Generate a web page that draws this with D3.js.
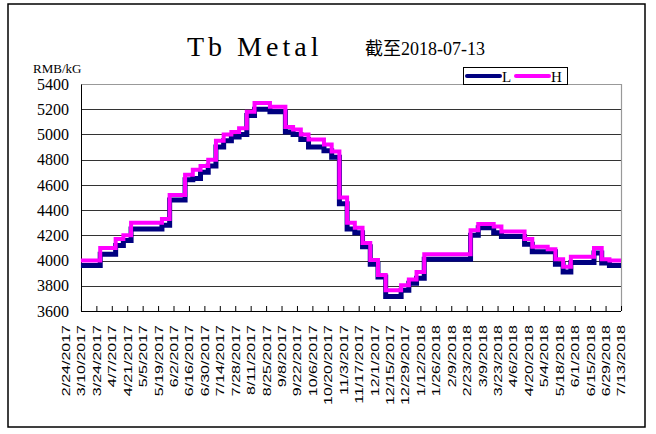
<!DOCTYPE html>
<html><head><meta charset="utf-8">
<script src="https://cdn.jsdelivr.net/npm/d3@7/dist/d3.min.js"></script>
<style>
body{margin:0;background:#fff;}
svg{display:block;}
</style></head>
<body>
<svg id="c" width="656" height="434"></svg>
<script>
// ---- data ----
const weeks = ["3/10/2017","3/17/2017","3/24/2017","3/31/2017","4/7/2017","4/14/2017","4/21/2017","4/28/2017","5/5/2017","5/12/2017","5/19/2017","5/26/2017","6/2/2017","6/9/2017","6/16/2017","6/23/2017","6/30/2017","7/7/2017","7/14/2017","7/21/2017","7/28/2017","8/4/2017","8/11/2017","8/18/2017","8/25/2017","9/1/2017","9/8/2017","9/15/2017","9/22/2017","9/29/2017","10/6/2017","10/13/2017","10/20/2017","10/27/2017","11/3/2017","11/10/2017","11/17/2017","11/24/2017","12/1/2017","12/8/2017","12/15/2017","12/22/2017","12/29/2017","1/5/2018","1/12/2018","1/19/2018","1/26/2018","2/2/2018","2/9/2018","2/16/2018","2/23/2018","3/2/2018","3/9/2018","3/16/2018","3/23/2018","3/30/2018","4/6/2018","4/13/2018","4/20/2018","4/27/2018","5/4/2018","5/11/2018","5/18/2018","5/25/2018","6/1/2018","6/8/2018","6/15/2018","6/22/2018","6/29/2018","7/6/2018","7/13/2018"];
const lowValues = [3960,3960,3960,4050,4050,4120,4160,4250,4250,4250,4250,4280,4480,4480,4640,4650,4700,4750,4900,4950,4980,5000,5150,5200,5200,5180,5180,5020,5000,4960,4900,4900,4870,4820,4450,4250,4220,4110,3970,3870,3715,3715,3765,3820,3860,4010,4010,4010,4010,4010,4010,4200,4260,4260,4220,4190,4190,4190,4130,4070,4070,4070,3970,3910,3985,3985,3985,4060,3980,3960,3960];
const highValues = [4000,4000,4000,4100,4100,4170,4200,4300,4300,4300,4300,4330,4520,4520,4680,4720,4750,4800,4950,5000,5020,5050,5180,5250,5250,5220,5220,5060,5040,5000,4960,4960,4920,4865,4500,4300,4260,4140,4005,3885,3765,3765,3805,3850,3910,4050,4050,4050,4050,4050,4050,4240,4290,4290,4270,4230,4230,4230,4170,4110,4110,4090,4010,3950,4030,4030,4030,4100,4010,4000,4000];
const tickLabels = ["2/24/2017","3/10/2017","3/24/2017","4/7/2017","4/21/2017","5/5/2017","5/19/2017","6/2/2017","6/16/2017","6/30/2017","7/14/2017","7/28/2017","8/11/2017","8/25/2017","9/8/2017","9/22/2017","10/6/2017","10/20/2017","11/3/2017","11/17/2017","12/1/2017","12/15/2017","12/29/2017","1/12/2018","1/26/2018","2/9/2018","2/23/2018","3/9/2018","3/23/2018","4/6/2018","4/20/2018","5/4/2018","5/18/2018","6/1/2018","6/15/2018","6/29/2018","7/13/2018"];
const yTicks = [3600,3800,4000,4200,4400,4600,4800,5000,5200,5400];
const seriesNames = ["L","H"];

// ---- setup ----
const parse = d3.timeParse("%m/%d/%Y");
const svg = d3.select("#c");
const plot = {left:81, right:621, top:84, bottom:311};

const x = d3.scaleTime()
  .domain([parse(tickLabels[0]), parse(tickLabels[tickLabels.length-1])])
  .range([65.5, plot.right]);
const y = d3.scaleLinear().domain([3600,5400]).range([plot.bottom, plot.top]);

// outer frame
svg.append("rect").attr("x",8).attr("y",4).attr("width",637).attr("height",423)
  .attr("fill","#fff").attr("stroke","#000").attr("stroke-width",1.5);

// title
svg.append("text").attr("x",187).attr("y",56)
  .attr("font-family","Liberation Serif, serif").attr("font-size",28)
  .attr("letter-spacing",4).attr("fill","#000").text("Tb Metal");
svg.append("text").attr("x",365).attr("y",55)
  .attr("font-family","Liberation Serif, 'Noto Sans CJK SC', serif").attr("font-size",18)
  .attr("fill","#000").text("截至2018-07-13");

// unit label
svg.append("text").attr("x",33).attr("y",73)
  .attr("font-family","Liberation Serif, serif").attr("font-size",13)
  .attr("fill","#000").text("RMB/kG");

// gridlines
svg.append("g").selectAll("line").data(yTicks.filter(v=>v>3600 && v<5400)).join("line")
  .attr("x1",plot.left).attr("x2",plot.right)
  .attr("y1",d=>Math.round(y(d))+0.5).attr("y2",d=>Math.round(y(d))+0.5)
  .attr("stroke","#333").attr("stroke-width",1);
// top / right border
svg.append("path")
  .attr("d",`M${plot.left},${plot.top+0.5}H${plot.right+0.5}V${plot.bottom}`)
  .attr("fill","none").attr("stroke","#999").attr("stroke-width",1.2);

// y axis
const yAxis = svg.append("g").attr("transform",`translate(${plot.left},0)`)
  .call(d3.axisLeft(y).tickValues(yTicks).tickSize(0).tickPadding(12).tickFormat(d3.format("d")));
yAxis.select(".domain").attr("stroke","#000");
yAxis.selectAll("text").attr("font-family","Liberation Serif, serif").attr("font-size",16).attr("fill","#000");

// x axis
const xAxis = svg.append("g").attr("transform",`translate(0,${plot.bottom})`)
  .call(d3.axisBottom(x).tickValues(tickLabels.map(parse)).tickSize(-5)
        .tickFormat((d,i)=>tickLabels[i]));
xAxis.select(".domain").attr("d",`M${plot.left},0.5H${plot.right}`).attr("stroke","#000");
xAxis.selectAll(".tick line").attr("stroke","#000").attr("opacity",(d,i)=>i===0?0:1);
xAxis.selectAll(".tick text")
  .attr("x",0).attr("y",0).attr("dy","0.35em")
  .attr("transform","translate(0,14) rotate(-90) scale(1,0.7)")
  .attr("text-anchor","end")
  .attr("font-family","Liberation Sans, Arial, sans-serif").attr("font-size",16).attr("fill","#000");

// lines
const data = weeks.map((w,i)=>({d:parse(w), L:lowValues[i], H:highValues[i]}));
const lineL = d3.line().x(d=>x(d.d)).y(d=>y(d.L)).curve(d3.curveStep);
const lineH = d3.line().x(d=>x(d.d)).y(d=>y(d.H)).curve(d3.curveStep);
svg.append("path").datum(data).attr("d",lineL).attr("fill","none")
  .attr("stroke","#000080").attr("stroke-width",5).attr("stroke-linejoin","miter");
svg.append("path").datum(data).attr("d",lineH).attr("fill","none")
  .attr("stroke","#ff00ff").attr("stroke-width",4).attr("stroke-linejoin","miter");

// legend
const lg = svg.append("g");
lg.append("rect").attr("x",463.5).attr("y",67.5).attr("width",104).attr("height",17)
  .attr("fill","#fff").attr("stroke","#000").attr("stroke-width",1);
const colors = ["#000080","#ff00ff"];
seriesNames.forEach((n,i)=>{
  const x0 = 467 + i*49;
  lg.append("line").attr("x1",x0).attr("x2",x0+33).attr("y1",76).attr("y2",76)
    .attr("stroke",colors[i]).attr("stroke-width",4).attr("stroke-linecap","round");
  lg.append("text").attr("x",x0+35).attr("y",82)
    .attr("font-family","Liberation Serif, serif").attr("font-size",15).attr("fill","#000").text(n);
});
</script>
</body></html>
